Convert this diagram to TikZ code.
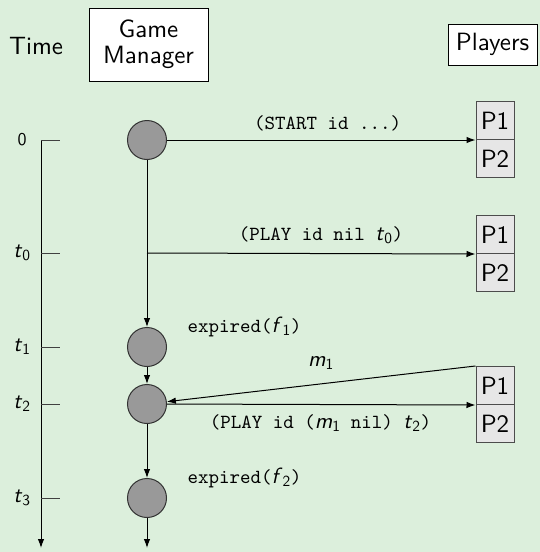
\documentclass[tikz,border=0pt]{standalone}
\usepackage{fontspec}
\setsansfont{lmsans10-regular.otf}[ItalicFont=lmsans10-oblique.otf, BoldFont=lmsans10-bold.otf]
\setmonofont{lmmono10-regular.otf}[ItalicFont=lmmono10-italic.otf]
\usetikzlibrary{arrows.meta}
\definecolor{bgc}{RGB}{220,239,220}
\definecolor{pfill}{RGB}{230,230,230}
\definecolor{cfill}{RGB}{153,153,153}
\newcommand{\sv}[2]{{\fontsize{22}{24}\selectfont\textsf{\textit{#1}}\textsubscript{\textsf{#2}}}}
\tikzset{
  big/.style={font=\sffamily\fontsize{25}{27}\selectfont},
  small/.style={font=\sffamily\fontsize{18}{22}\selectfont},
  code/.style={font=\ttfamily\fontsize{20}{22}\selectfont},
  hdr/.style={big, draw=black, fill=white, line width=1pt, align=center, inner sep=0pt},
  pbox/.style={big, draw=black!70, fill=pfill, line width=1pt, minimum width=38pt, minimum height=38pt, inner sep=0pt},
  evt/.style={circle, draw=black!80, fill=cfill, line width=1pt, minimum size=39pt, inner sep=0pt},
  conn/.style={line width=1pt, draw=black},
  tick/.style={line width=0.8pt, draw=black!75},
  arr/.style={conn, -{Latex[length=9pt,width=6.5pt]}},
}
\begin{document}
\begin{tikzpicture}[x=1pt,y=-1pt]
\fill[bgc] (0,0) rectangle (540,552);
\useasboundingbox (0,0) rectangle (540,552);

% headers
\node[big, anchor=base] (tm) at (36,54) {Time};
\node[hdr, minimum width=119pt, minimum height=73pt] (gm) at (148.5,44.5) {Game\\[-1pt]Manager};
\node[hdr, minimum width=89pt, minimum height=41pt] (pl) at (492.5,44.5) {Players};

% time axis
\coordinate (a0) at (41,140);
\coordinate (aend) at (41,548);
\draw[arr] (a0) -- (aend);
\foreach \y/\n/\lab in {140/t0/0, 253/t1/\sv{t}{0}, 347/t2/\sv{t}{1}, 404/t3/\sv{t}{2}, 498/t4/\sv{t}{3}} {
  \coordinate (\n a) at (41,\y);
  \coordinate (\n b) at (60,\y);
  \draw[tick] (\n a) -- (\n b);
  \node[small] (\n l) at (22,\y) {\lab};
}

% events
\node[evt] (c0) at (147,140) {};
\node[evt] (c1) at (147,347) {};
\node[evt] (c2) at (147,404) {};
\node[evt] (c3) at (147,498) {};
\coordinate (j0) at (147,253);
\coordinate (cend) at (147,548);

% players
\node[pbox] (pa1) at (495,120.5) {P1};
\node[pbox] (pa2) at (495,158.5) {P2};
\node[pbox] (pb1) at (495,234.5) {P1};
\node[pbox] (pb2) at (495,272.5) {P2};
\node[pbox] (pc1) at (495,385.5) {P1};
\node[pbox] (pc2) at (495,423.5) {P2};

% connectors
\draw[arr] (c0) -- (c1);
\draw[arr] (c1) -- (c2);
\draw[arr] (c2) -- (c3);
\draw[arr] (c3) -- (cend);
\draw[arr] (c0.east) -- (pa1.south west);
\draw[arr] (j0) -- (pb1.south west);
\draw[arr] (pc1.north west) -- (c2);
\draw[arr] (c2.east) -- (pc1.south west);

% labels
\node[code] (l0) at (327.5,123) {(START id ...)};
\node[code] (l1) at (321,235) {(PLAY id nil \sv{t}{0})};
\node[code] (l2) at (244.5,327) {expired(\sv{f}{1})};
\node[small] (l3) at (321,363) {\sv{m}{1}};
\node[code] (l4) at (320.5,423) {(PLAY id (\sv{m}{1} nil) \sv{t}{2})};
\node[code] (l5) at (244.5,478) {expired(\sv{f}{2})};
\end{tikzpicture}
\end{document}
